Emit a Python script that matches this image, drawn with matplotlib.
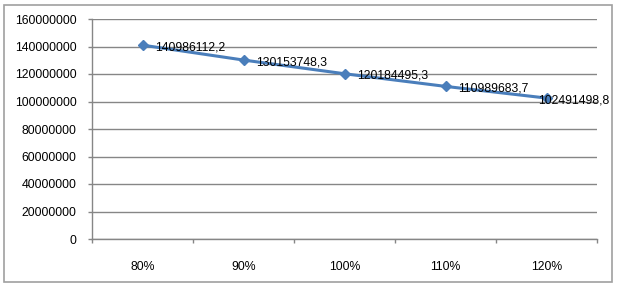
import matplotlib
matplotlib.use('Agg')
import matplotlib.pyplot as plt
from matplotlib.patches import Rectangle

# Data
categories = ['80%', '90%', '100%', '110%', '120%']
values = [140986112.2, 130153748.3, 120184495.3, 110989683.7, 102491498.8]
value_labels = ['140986112,2', '130153748,3', '120184495,3', '110989683,7', '102491498,8']
y_ticks = [0, 20000000, 40000000, 60000000, 80000000, 100000000,
           120000000, 140000000, 160000000]

plt.rcParams['font.family'] = ['Liberation Sans', 'DejaVu Sans']
grey = '#868686'
blue = '#4a7ebb'

W, H = 618, 288
fig = plt.figure(figsize=(W / 100, H / 100), dpi=100)

# outer chart border
fig.patches.append(Rectangle((4 / W, 6 / H), 608 / W, 277 / H,
                             transform=fig.transFigure, fill=False,
                             edgecolor='#a0a0a0', linewidth=1.2))

ax = fig.add_axes([92 / W, 49 / H, 505 / W, 220 / H])
x = list(range(len(categories)))
ax.plot(x, values, color=blue, linewidth=2.2, marker='D', markersize=5.5,
        zorder=3)

# data labels (offsets in points, last one kept inside chart)
offsets = [(9, -1.5), (9, -1.5), (9, -1.5), (9, -1.5), (-6, -1.5)]
for xi, v, lab, off in zip(x, values, value_labels, offsets):
    ax.annotate(lab, (xi, v), xytext=off, textcoords='offset points',
                ha='left', va='center', fontsize=8.8, color='black', zorder=4)

ax.set_xlim(-0.5, len(categories) - 0.5)
ax.set_ylim(0, 160000000)
ax.set_yticks(y_ticks)
ax.set_yticklabels([str(t) for t in y_ticks], fontsize=8.8)
ax.set_xticks(x)
ax.set_xticklabels(categories, fontsize=8.8)
ax.tick_params(axis='x', length=0, pad=16)
# category boundary ticks
ax.set_xticks([i - 0.5 for i in range(len(categories) + 1)], minor=True)
ax.tick_params(axis='x', which='minor', length=3, color=grey, width=1)
ax.tick_params(axis='y', length=3, color=grey, width=1, pad=8)

ax.grid(axis='y', color=grey, linewidth=1)
ax.set_axisbelow(True)
for s in ['top', 'right']:
    ax.spines[s].set_visible(False)
for s in ['left', 'bottom']:
    ax.spines[s].set_color(grey)
    ax.spines[s].set_linewidth(1)

fig.savefig('out.png', dpi=100)
